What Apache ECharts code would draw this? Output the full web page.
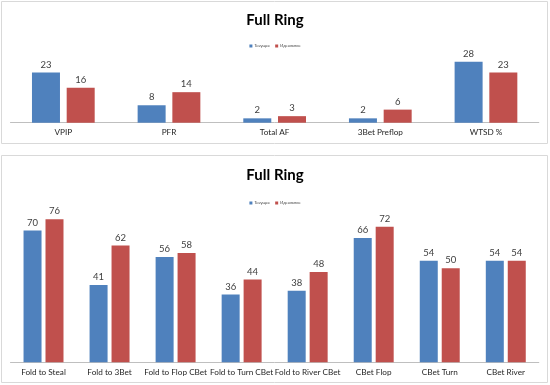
<!DOCTYPE html>
<html>
<head>
<meta charset="utf-8">
<script src="https://cdn.jsdelivr.net/npm/echarts@6/dist/echarts.min.js"></script>
<style>
html,body{margin:0;padding:0;background:#fff;}
#c{width:550px;height:385px;}
</style>
</head>
<body>
<div id="c"></div>
<script>
var seriesNames = ['Текущее', 'Идеальное'];
var topCategories = ['VPIP', 'PFR', 'Total AF', '3Bet Preflop', 'WTSD %'];
var topCurrent = [23, 8, 2, 2, 28];
var topIdeal = [16, 14, 3, 6, 23];
var bottomCategories = ['Fold to Steal', 'Fold to 3Bet', 'Fold to Flop CBet', 'Fold to Turn CBet', 'Fold to River CBet', 'CBet Flop', 'CBet Turn', 'CBet River'];
var bottomCurrent = [70, 41, 56, 36, 38, 66, 54, 54];
var bottomIdeal = [76, 62, 58, 44, 48, 72, 50, 54];
var chartTitle = 'Full Ring';

var BLUE = '#4F81BD', RED = '#C0504D';
var FONT = 'Lato, "Open Sans", sans-serif';
var chart = echarts.init(document.getElementById('c'), null, {renderer: 'canvas'});

function barSeries(name, data, xi, color, bw, gap, cgap) {
  return {
    type: 'bar', name: name, data: data, xAxisIndex: xi, yAxisIndex: xi,
    barWidth: bw, barGap: gap, barCategoryGap: cgap,
    itemStyle: {color: color},
    label: {show: true, position: 'top', distance: 3, color: '#404040', fontSize: 9.5, fontFamily: FONT},
    emphasis: {disabled: true}, animation: false
  };
}
function xAx(cats, gi) {
  return {
    type: 'category', data: cats, gridIndex: gi,
    axisLine: {lineStyle: {color: '#BFBFBF', width: 1}},
    axisTick: {show: false},
    axisLabel: {color: '#262626', fontSize: 8.2, fontFamily: FONT, margin: 6, interval: 0}
  };
}
function yAx(max, gi) {
  return {type: 'value', min: 0, max: max, gridIndex: gi, show: false, splitLine: {show: false}};
}

chart.setOption({
  animation: false,
  graphic: [
    {type: 'rect', shape: {x: 1.5, y: 1.5, width: 546, height: 142}, style: {fill: 'none', stroke: '#D9D9D9', lineWidth: 1}, silent: true},
    {type: 'rect', shape: {x: 1.5, y: 155.5, width: 546, height: 227}, style: {fill: 'none', stroke: '#D9D9D9', lineWidth: 1}, silent: true}
  ],
  title: [
    {text: chartTitle, left: 'center', top: 8, textStyle: {fontSize: 15, fontWeight: 'bold', fontFamily: FONT, color: '#000'}},
    {text: chartTitle, left: 'center', top: 163, textStyle: {fontSize: 15, fontWeight: 'bold', fontFamily: FONT, color: '#000'}}
  ],
  legend: [
    {data: seriesNames, left: 'center', top: 39, itemWidth: 3, itemHeight: 3, itemGap: 5, icon: 'rect',
     textStyle: {fontSize: 4, color: '#404040', fontFamily: FONT, padding: [0,0,0,-3]}, selectedMode: false},
    {data: seriesNames, left: 'center', top: 196, itemWidth: 3, itemHeight: 3, itemGap: 5, icon: 'rect',
     textStyle: {fontSize: 4, color: '#404040', fontFamily: FONT, padding: [0,0,0,-3]}, selectedMode: false}
  ],
  grid: [
    {left: 10.5, right: 11.2, top: 57.3, bottom: 385 - 122.7, containLabel: false},
    {left: 10.5, right: 11.2, top: 211.7, bottom: 385 - 362.3, containLabel: false}
  ],
  xAxis: [xAx(topCategories, 0), xAx(bottomCategories, 1)],
  yAxis: [yAx(30, 0), yAx(80, 1)],
  series: [
    barSeries(seriesNames[0], topCurrent, 0, BLUE, 28, '24%', '40%'),
    barSeries(seriesNames[1], topIdeal, 0, RED, 28, '24%', '40%'),
    barSeries(seriesNames[0], bottomCurrent, 1, BLUE, 18, '22%', '39%'),
    barSeries(seriesNames[1], bottomIdeal, 1, RED, 18, '22%', '39%')
  ]
});
</script>
</body>
</html>
